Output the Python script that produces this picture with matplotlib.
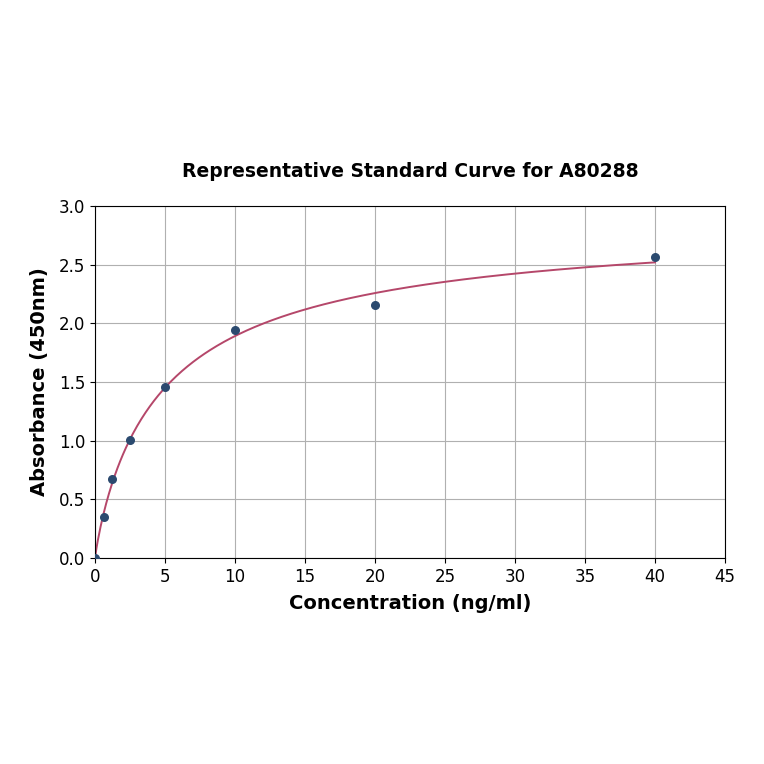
import numpy as np
import matplotlib
matplotlib.use("Agg")
import matplotlib.pyplot as plt

conc = [0, 0.625, 1.25, 2.5, 5, 10, 20, 40]
absorb = [0.0, 0.35, 0.67, 1.01, 1.46, 1.94, 2.16, 2.565]
title = "Representative Standard Curve for A80288"
xlabel = "Concentration (ng/ml)"
ylabel = "Absorbance (450nm)"

x = np.array(conc, dtype=float)
y = np.array(absorb, dtype=float)

# 4PL fit: y = d + (a-d)/(1+(x/c)^b); grid over b, c, linear solve for a, d
best = None
for b in np.linspace(0.5, 2.0, 61):
    for c in np.linspace(1, 40, 157):
        g = 1.0 / (1.0 + (x / c) ** b)
        A = np.column_stack([g, 1 - g])
        coef, *_ = np.linalg.lstsq(A, y, rcond=None)
        r = np.sum((A @ coef - y) ** 2)
        if best is None or r < best[0]:
            best = (r, b, c, coef)
_, b, c, (a, d) = best
xf = np.linspace(0, 40, 400)
yf = d + (a - d) / (1 + (xf / c) ** b)

fig = plt.figure(figsize=(7.64, 7.64), dpi=100)
ax = fig.add_axes([0.1243, 0.2696, 0.8247, 0.4608])
ax.plot(xf, yf, color="#b5476a", lw=1.4, zorder=2)
ax.scatter(x, y, color="#2b4a6f", s=30, zorder=3)
ax.set_xlim(0, 45)
ax.set_ylim(0, 3.0)
ax.set_xticks(np.arange(0, 46, 5))
ax.set_yticks(np.arange(0, 3.01, 0.5))
ax.grid(True, color="#b0b0b0", lw=0.8)
ax.set_axisbelow(True)
ax.tick_params(labelsize=12)
ax.set_xlabel(xlabel, fontsize=14, fontweight="bold", labelpad=6)
ax.set_ylabel(ylabel, fontsize=14, fontweight="bold", labelpad=7)
ax.set_title(title, fontsize=13.5, fontweight="bold", pad=21)
fig.savefig("out.png", dpi=100)
